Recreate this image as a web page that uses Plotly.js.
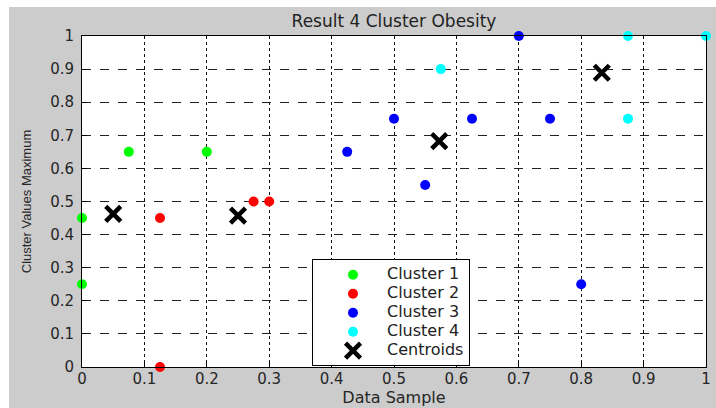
<!DOCTYPE html>
<html>
<head>
<meta charset="utf-8">
<script src="https://cdn.plot.ly/plotly-3.0.1.min.js"></script>
<style>
html,body{margin:0;padding:0;background:#ffffff;width:716px;height:408px;overflow:hidden;}
#chart{position:absolute;left:9px;top:7px;width:707px;height:401px;}
</style>
</head>
<body>
<div id="chart"></div>
<script>
// Cluster 1
const cluster1X = [0, 0, 0.075, 0.2];
const cluster1Y = [0.45, 0.25, 0.65, 0.65];
// Cluster 2
const cluster2X = [0.125, 0.125, 0.275, 0.3];
const cluster2Y = [0.45, 0, 0.5, 0.5];
// Cluster 3
const cluster3X = [0.425, 0.5, 0.55, 0.625, 0.7, 0.75, 0.8];
const cluster3Y = [0.65, 0.75, 0.55, 0.75, 1.0, 0.75, 0.25];
// Cluster 4
const cluster4X = [0.575, 0.875, 0.875, 1.0];
const cluster4Y = [0.9, 1.0, 0.75, 1.0];
// Centroids
const centroidX = [0.05, 0.25, 0.5725, 0.833];
const centroidY = [0.4625, 0.4575, 0.6825, 0.889];

const seriesNames = ["Cluster 1", "Cluster 2", "Cluster 3", "Cluster 4", "Centroids"];
const tickVals = [0, 0.1, 0.2, 0.3, 0.4, 0.5, 0.6, 0.7, 0.8, 0.9, 1];
const tickText = ["0", "0.1", "0.2", "0.3", "0.4", "0.5", "0.6", "0.7", "0.8", "0.9", "1"];

const clusterData = [
  [cluster1X, cluster1Y, "#00ff00"],
  [cluster2X, cluster2Y, "#ff0000"],
  [cluster3X, cluster3Y, "#0000ff"],
  [cluster4X, cluster4Y, "#00ffff"]
];

function legendLabel(s) {
  return '<span style="font-size:16px">' + s + '</span>';
}

const traces = clusterData.map((d, i) => ({
  type: "scatter", mode: "markers", name: legendLabel(seriesNames[i]),
  x: d[0], y: d[1], cliponaxis: false,
  marker: {symbol: "circle", size: 10, color: d[2], line: {width: 0}}
}));
traces.push({
  type: "scatter", mode: "markers", name: legendLabel(seriesNames[4]),
  x: centroidX, y: centroidY, cliponaxis: false,
  marker: {symbol: "x-thin", size: 15, color: "#000000", line: {width: 4.5, color: "#000000"}}
});

const axisFont = {family: "DejaVu Sans, sans-serif", size: 15, color: "#262626"};

const layout = {
  width: 707, height: 401,
  paper_bgcolor: "#cccccc", plot_bgcolor: "#ffffff",
  margin: {l: 73, r: 10, t: 29, b: 41, pad: 0},
  showlegend: true,
  title: {
    text: "Result 4 Cluster Obesity",
    font: {family: "DejaVu Sans, sans-serif", size: 17, color: "#222222"},
    xref: "paper", x: 0.5, xanchor: "center",
    yref: "container", y: 0.965, yanchor: "middle"
  },
  xaxis: {
    range: [0, 1], tickmode: "array", tickvals: tickVals, ticktext: tickText,
    showgrid: true, gridcolor: "#111111", gridwidth: 1, griddash: "dot",
    zeroline: false, showline: true, linecolor: "#000000", linewidth: 1, mirror: true,
    ticks: "inside", ticklen: 5, tickcolor: "#000000",
    tickfont: axisFont, ticklabelstandoff: -2,
    title: {text: "Data Sample", font: {family: "DejaVu Sans, sans-serif", size: 16, color: "#262626"}, standoff: 0}
  },
  yaxis: {
    range: [0, 1], tickmode: "array", tickvals: tickVals, ticktext: tickText,
    showgrid: true, gridcolor: "#222222", gridwidth: 1, griddash: "dash",
    zeroline: false, showline: true, linecolor: "#000000", linewidth: 1, mirror: true,
    ticks: "inside", ticklen: 5, tickcolor: "#000000",
    tickfont: axisFont, ticklabelstandoff: 4,
    title: {text: "Cluster Values Maximum", font: {family: "Liberation Sans, Arial, sans-serif", size: 13, color: "#262626"}, standoff: 15}
  },
  legend: {
    x: 0.3686, y: 0.3257, xanchor: "left", yanchor: "top",
    xref: "paper", yref: "paper",
    bgcolor: "#ffffff", bordercolor: "#000000", borderwidth: 1,
    font: {family: "DejaVu Sans, sans-serif", size: 11.5, color: "#222222"},
    itemwidth: 58, indentation: 6, tracegroupgap: 0
  }
};

Plotly.newPlot("chart", traces, layout, {displayModeBar: false, staticPlot: true});
</script>
</body>
</html>
